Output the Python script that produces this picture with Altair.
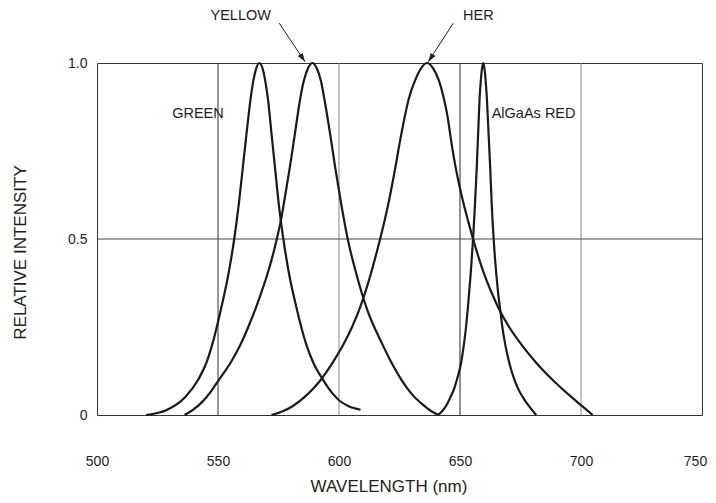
import altair as alt
import pandas as pd

# ---- data (wavelength nm, relative intensity) ----
green_nm = [520.3, 529, 536.3, 541.8, 545.3, 547.6, 551.2, 554.3, 556.7, 558.6, 560.2, 561.8, 563.5,
            564.6, 565.8, 567.1,
            568.4, 569.5, 570.6, 572.1, 573.6, 575.1, 577.0, 579.4, 582.6, 586.5, 589.3, 593.4,
            597.5, 600.5, 604, 608.9]
green_val = [0, 0.015, 0.05, 0.1, 0.15, 0.2, 0.3, 0.4, 0.5, 0.6, 0.7, 0.8, 0.9,
             0.95, 0.985, 1.0,
             0.985, 0.95, 0.9, 0.8, 0.7, 0.6, 0.5, 0.4, 0.3, 0.2, 0.15, 0.1,
             0.06, 0.039, 0.025, 0.015]

yellow_nm = [536.2, 539.5, 543.6, 547.2, 550.2, 555.5, 559.3, 562.5, 565.4, 568, 570.4, 572.5, 574.3,
             575.9, 577.2, 579.6, 581.8, 584.0, 585.5, 587.2, 589.0,
             590.8, 592.5, 593.9, 596.3, 598.5, 600.9, 603.6, 607.2, 611.6, 618.0, 621.6, 625.8,
             630, 634.5, 638.3, 641.1]
yellow_val = [0, 0.014, 0.038, 0.068, 0.098, 0.152, 0.2, 0.25, 0.3, 0.35, 0.4, 0.45, 0.5,
              0.55, 0.6, 0.7, 0.8, 0.9, 0.95, 0.985, 1.0,
              0.985, 0.95, 0.9, 0.8, 0.7, 0.6, 0.5, 0.4, 0.3, 0.2, 0.15, 0.1,
              0.06, 0.03, 0.01, 0]

her_nm = [572.1, 576.5, 580.8, 585.6, 589.4, 592.5, 597.5, 601.8, 605.4, 608.4, 610.9, 613.1, 615.1,
          617.0, 620.4, 623.2, 625.8, 628.9, 631.4, 633.9, 636.3,
          638.9, 641.3, 643.3, 644.8, 645.9, 647.0, 648.3, 649.8, 651.5, 653.4, 655.4, 657.6,
          660.0, 662.9, 666.2, 670.3, 675.4, 681.3, 688.2, 696.2, 700.5, 704.8]
her_val = [0, 0.01, 0.025, 0.05, 0.075, 0.1, 0.15, 0.2, 0.25, 0.3, 0.35, 0.4, 0.45,
           0.5, 0.6, 0.7, 0.8, 0.9, 0.95, 0.985, 1.0,
           0.985, 0.95, 0.9, 0.85, 0.8, 0.75, 0.7, 0.65, 0.6, 0.55, 0.5, 0.45,
           0.4, 0.35, 0.3, 0.25, 0.2, 0.15, 0.1, 0.05, 0.025, 0]

red_nm = [641, 642.5, 644.6, 646.0, 647.6, 648.7, 650.5, 651.6, 652.5, 653.2, 653.8, 654.4, 654.9,
          655.4, 656.2, 656.9, 657.5, 658.1, 658.6, 659.1, 659.6,
          660.1, 660.6, 661.1, 661.8, 662.5, 663.1, 663.9, 664.4, 665.0, 665.7, 666.6, 667.5,
          668.7, 670.3, 672.5, 674.0, 676.0, 678.5, 681.5]
red_val = [0, 0.01, 0.03, 0.05, 0.075, 0.1, 0.15, 0.2, 0.25, 0.3, 0.35, 0.4, 0.45,
           0.5, 0.6, 0.7, 0.8, 0.9, 0.95, 0.985, 1.0,
           0.985, 0.95, 0.9, 0.8, 0.7, 0.6, 0.5, 0.45, 0.4, 0.35, 0.3, 0.25,
           0.2, 0.15, 0.1, 0.075, 0.05, 0.025, 0]

x_ticks = [500, 550, 600, 650, 700, 750]
y_ticks = [0, 0.5, 1.0]
vgrid_nm = [550, 600, 650, 700]
vgrid_color = ["#333333", "#8a8a8a", "#222222", "#8a8a8a"]
hgrid_val = [0.5]

label_text = ["GREEN", "AlGaAs RED", "YELLOW", "HER"]
label_nm = [541.7, 663.1, 559.4, 657.6]
label_val = [0.855, 0.855, 1.1335, 1.1335]
label_align = ["center", "left", "center", "center"]

arrow_x1 = [575.3, 647.2]
arrow_y1 = [1.113, 1.113]
arrow_x2 = [585.95, 636.9]
arrow_y2 = [1.0037, 1.0037]
arrow_angle = [326.2, 33.8]

INK = "#231f20"
FONT = "Liberation Sans"

rows = []
for name, xs, ys in [("GREEN", green_nm, green_val), ("YELLOW", yellow_nm, yellow_val),
                     ("HER", her_nm, her_val), ("AlGaAs RED", red_nm, red_val)]:
    for a, b in zip(xs, ys):
        rows.append({"series": name, "nm": a, "val": b})
curve_df = pd.DataFrame(rows)
curve_df["idx"] = range(len(curve_df))

xscale = alt.Scale(domain=[500, 750], nice=False, zero=False)
yscale = alt.Scale(domain=[0, 1], nice=False, zero=False)

vgrid_df = pd.DataFrame({"nm": vgrid_nm, "c": vgrid_color})
hgrid_df = pd.DataFrame({"val": hgrid_val})
lab_df = pd.DataFrame({"t": label_text, "nm": label_nm, "val": label_val, "al": label_align})
arr_df = pd.DataFrame({"x1": arrow_x1, "y1": arrow_y1, "x2": arrow_x2, "y2": arrow_y2, "ang": arrow_angle})

base_x = alt.X("nm:Q", scale=xscale,
               axis=alt.Axis(values=x_ticks, title="WAVELENGTH (nm)", grid=False, ticks=False,
                             domain=False, labelFontSize=14, labelFont=FONT, labelColor=INK,
                             labelBaseline="middle", labelPadding=46, labelFlush=False,
                             labelOverlap=False,
                             labelOffset={"condition": {"test": "datum.value == 750", "value": -7},
                                          "value": 0},
                             titleFontSize=17, titleFont=FONT, titleColor=INK,
                             titleFontWeight="normal", titleX=291.5, titleY=71,
                             titleBaseline="middle"))
base_y = alt.Y("val:Q", scale=yscale,
               axis=alt.Axis(values=y_ticks, title="RELATIVE INTENSITY", grid=False, ticks=False,
                             domain=False, labelFontSize=14, labelFont=FONT, labelColor=INK,
                             labelPadding=10, labelFlush=False,
                             labelExpr="datum.value == 0 ? '0' : format(datum.value, '.1f')",
                             titleFontSize=17, titleFont=FONT, titleColor=INK,
                             titleFontWeight="normal", titleAngle=270, titleX=-77, titleY=189,
                             titleBaseline="middle", titleAlign="center"))

vgrid = alt.Chart(vgrid_df).mark_rule(strokeWidth=1).encode(
    x=alt.X("nm:Q", scale=xscale), color=alt.Color("c:N", scale=None))
hgrid = alt.Chart(hgrid_df).mark_rule(strokeWidth=1, color="#444444").encode(
    y=alt.Y("val:Q", scale=yscale))

curves = alt.Chart(curve_df).mark_line(interpolate="monotone", color="#1a1a1a",
                                       strokeWidth=2.2).encode(
    x=base_x, y=base_y, detail="series:N", order="idx:Q")

labels_c = alt.Chart(lab_df[lab_df.al == "center"]).mark_text(
    font=FONT, fontSize=14.5, color=INK, align="center", baseline="middle").encode(
    x=alt.X("nm:Q", scale=xscale), y=alt.Y("val:Q", scale=yscale), text="t:N")
labels_l = alt.Chart(lab_df[lab_df.al == "left"]).mark_text(
    font=FONT, fontSize=14.5, color=INK, align="left", baseline="middle").encode(
    x=alt.X("nm:Q", scale=xscale), y=alt.Y("val:Q", scale=yscale), text="t:N")

arrow_lines = alt.Chart(arr_df).mark_rule(color=INK, strokeWidth=1).encode(
    x=alt.X("x1:Q", scale=xscale), y=alt.Y("y1:Q", scale=yscale),
    x2="x2:Q", y2="y2:Q")
arrow_heads = alt.Chart(arr_df).mark_point(
    shape="M0,0 L-0.33,-1 L0.33,-1 Z", filled=True, color=INK, opacity=1, size=300).encode(
    x=alt.X("x2:Q", scale=xscale), y=alt.Y("y2:Q", scale=yscale),
    angle=alt.Angle("ang:Q", scale=None))

chart = alt.layer(vgrid, hgrid, curves, labels_c, labels_l, arrow_lines, arrow_heads).properties(
    width=605, height=352,
    autosize=alt.AutoSizeParams(type="none"),
    padding={"left": 89, "top": 55, "right": 6, "bottom": 80},
    background="white",
).configure_view(stroke="#333333", strokeWidth=1)

chart.save("out.html", embed_options={"renderer": "svg", "actions": False})
